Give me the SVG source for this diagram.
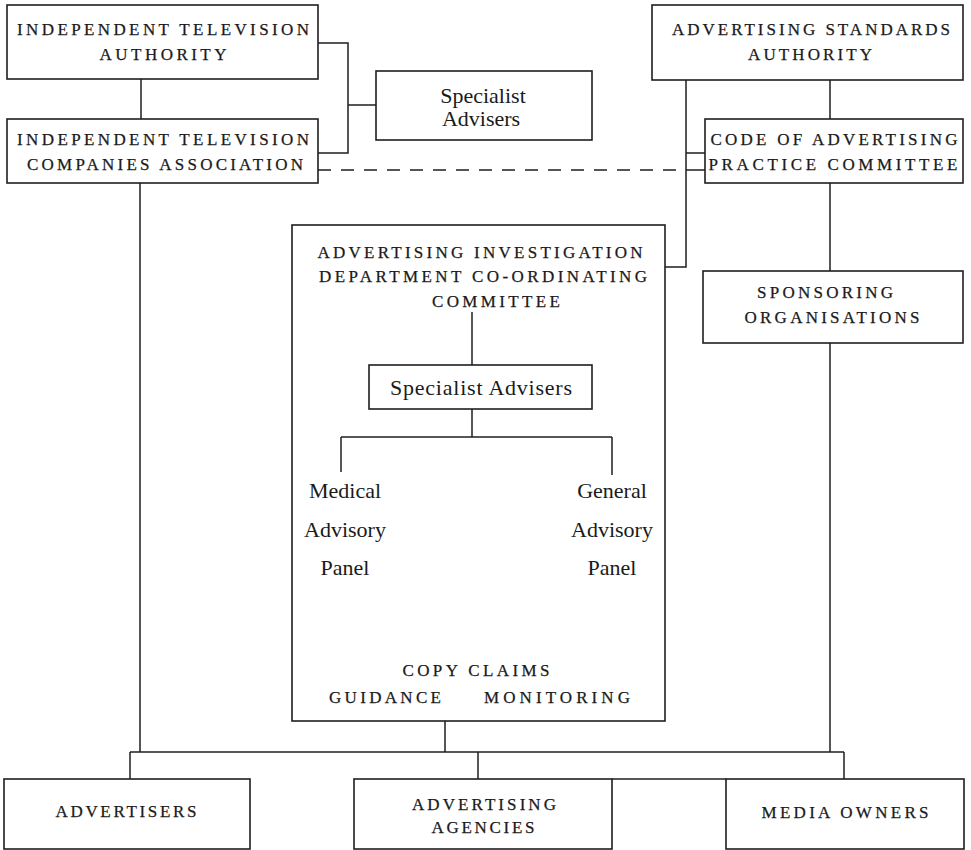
<svg xmlns="http://www.w3.org/2000/svg" width="971" height="850" viewBox="0 0 971 850">
<style>
.box{fill:none;stroke:#1e1e1e;stroke-width:1.6}
.ln{fill:none;stroke:#1e1e1e;stroke-width:1.5}
.dash{fill:none;stroke:#1e1e1e;stroke-width:1.6;stroke-dasharray:13 10}
.cap{font-family:"Liberation Serif",serif;font-size:17px;fill:#1a1a1a;text-anchor:middle;stroke:#1a1a1a;stroke-width:0.25}
.mix{font-family:"Liberation Serif",serif;font-size:22px;fill:#1a1a1a;text-anchor:middle}
</style>
<rect width="971" height="850" fill="#fff"/>
<g id="connectors">
<line class="ln" x1="141" y1="79" x2="141" y2="119"/>
<polyline class="ln" points="318,43 348,43 348,153 318,153"/>
<line class="ln" x1="348" y1="105" x2="376" y2="105"/>
<line class="dash" x1="318" y1="170" x2="686" y2="170"/>
<line class="ln" x1="686" y1="170" x2="705" y2="170"/>
<polyline class="ln" points="686,80 686,267 665,267"/>
<line class="ln" x1="686" y1="153" x2="705" y2="153"/>
<line class="ln" x1="830" y1="80" x2="830" y2="119"/>
<line class="ln" x1="830" y1="183" x2="830" y2="271"/>
<line class="ln" x1="830" y1="343" x2="830" y2="752"/>
<line class="ln" x1="140" y1="183" x2="140" y2="752"/>
<line class="ln" x1="130" y1="752" x2="844" y2="752"/>
<line class="ln" x1="130" y1="752" x2="130" y2="779"/>
<line class="ln" x1="478" y1="752" x2="478" y2="779"/>
<line class="ln" x1="844" y1="752" x2="844" y2="779"/>
<line class="ln" x1="445" y1="721" x2="445" y2="752"/>
<line class="ln" x1="472" y1="312" x2="472" y2="365"/>
<line class="ln" x1="472" y1="409" x2="472" y2="437"/>
<line class="ln" x1="341" y1="437" x2="612" y2="437"/>
<line class="ln" x1="341" y1="437" x2="341" y2="472"/>
<line class="ln" x1="612" y1="437" x2="612" y2="475"/>
<line class="ln" x1="612" y1="779" x2="726" y2="779"/>
</g>
<g id="ita">
<rect class="box" x="7" y="5" width="311" height="74"/>
<text class="cap" x="163" y="35" textLength="292" lengthAdjust="spacing">INDEPENDENT TELEVISION</text>
<text class="cap" x="163" y="60" textLength="127" lengthAdjust="spacing">AUTHORITY</text>
</g>
<g id="itca">
<rect class="box" x="7" y="119" width="311" height="64"/>
<text class="cap" x="163" y="145" textLength="292" lengthAdjust="spacing">INDEPENDENT TELEVISION</text>
<text class="cap" x="165" y="170" textLength="276" lengthAdjust="spacing">COMPANIES ASSOCIATION</text>
</g>
<g id="specialist-top">
<rect class="box" x="376" y="71" width="216" height="69"/>
<text class="mix" x="483" y="103">Specialist</text>
<text class="mix" x="481" y="126">Advisers</text>
</g>
<g id="asa">
<rect class="box" x="652" y="5" width="311" height="75"/>
<text class="cap" x="811" y="35" textLength="278" lengthAdjust="spacing">ADVERTISING STANDARDS</text>
<text class="cap" x="810" y="60" textLength="124" lengthAdjust="spacing">AUTHORITY</text>
</g>
<g id="cap">
<rect class="box" x="705" y="119" width="258" height="64"/>
<text class="cap" x="834" y="145" textLength="247" lengthAdjust="spacing">CODE OF ADVERTISING</text>
<text class="cap" x="833" y="170" textLength="249" lengthAdjust="spacing">PRACTICE COMMITTEE</text>
</g>
<g id="sponsoring">
<rect class="box" x="703" y="271" width="260" height="72"/>
<text class="cap" x="825" y="298" textLength="136" lengthAdjust="spacing">SPONSORING</text>
<text class="cap" x="832" y="323" textLength="175" lengthAdjust="spacing">ORGANISATIONS</text>
</g>
<g id="aid">
<rect class="box" x="292" y="225" width="373" height="496"/>
<text class="cap" x="480" y="258" textLength="325" lengthAdjust="spacing">ADVERTISING INVESTIGATION</text>
<text class="cap" x="483" y="282" textLength="328" lengthAdjust="spacing">DEPARTMENT CO-ORDINATING</text>
<text class="cap" x="496" y="307" textLength="128" lengthAdjust="spacing">COMMITTEE</text>
<text class="cap" x="476" y="676" textLength="147" lengthAdjust="spacing">COPY CLAIMS</text>
<text class="cap" x="385" y="703" textLength="112" lengthAdjust="spacing">GUIDANCE</text>
<text class="cap" x="557" y="703" textLength="146" lengthAdjust="spacing">MONITORING</text>
</g>
<g id="specialist-inner">
<rect class="box" x="369" y="365" width="223" height="44"/>
<text class="mix" x="481" y="395" textLength="182" lengthAdjust="spacing">Specialist Advisers</text>
</g>
<g id="medical">
<text class="mix" x="345" y="498">Medical</text>
<text class="mix" x="345" y="537">Advisory</text>
<text class="mix" x="345" y="575">Panel</text>
</g>
<g id="general">
<text class="mix" x="612" y="498">General</text>
<text class="mix" x="612" y="537">Advisory</text>
<text class="mix" x="612" y="575">Panel</text>
</g>
<g id="advertisers">
<rect class="box" x="4" y="779" width="246" height="70"/>
<text class="cap" x="126" y="817" textLength="141" lengthAdjust="spacing">ADVERTISERS</text>
</g>
<g id="agencies">
<rect class="box" x="354" y="779" width="258" height="70"/>
<text class="cap" x="484" y="810" textLength="144" lengthAdjust="spacing">ADVERTISING</text>
<text class="cap" x="483" y="833" textLength="103" lengthAdjust="spacing">AGENCIES</text>
</g>
<g id="media">
<rect class="box" x="726" y="779" width="238" height="70"/>
<text class="cap" x="845" y="818" textLength="167" lengthAdjust="spacing">MEDIA OWNERS</text>
</g>
</svg>
